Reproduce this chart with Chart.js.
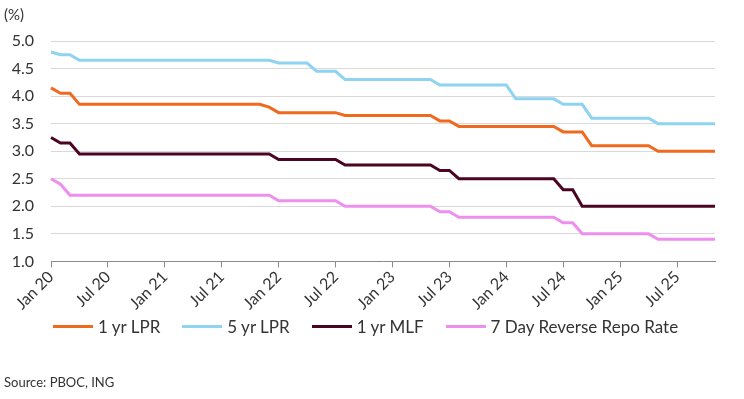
<!DOCTYPE html>
<html>
<head>
<meta charset="utf-8">
<script src="https://cdn.jsdelivr.net/npm/chart.js@4"></script>
<style>
  html, body { margin: 0; padding: 0; background: #fff; }
  #wrap { width: 744px; height: 399px; position: relative; }
  #legend {
      position: absolute; left: 53px; top: 315px; height: 22px;
      display: flex; align-items: center;
      font-family: Lato, "Noto Sans", sans-serif; font-size: 17px; color: #333;
  }
  #legend .item { display: flex; align-items: center; margin-right: 22px; white-space: nowrap; }
  #legend .swatch { width: 40px; height: 3px; margin-right: 5px; }
</style>
</head>
<body>
<div id="wrap">
  <canvas id="ratesChart" width="744" height="399"></canvas>
  <div id="legend"></div>
</div>
<script>
// Month labels Jan 20 .. Nov 25
const months = [
    'Jan 20','Feb 20','Mar 20','Apr 20','May 20','Jun 20','Jul 20','Aug 20','Sep 20','Oct 20','Nov 20','Dec 20',
    'Jan 21','Feb 21','Mar 21','Apr 21','May 21','Jun 21','Jul 21','Aug 21','Sep 21','Oct 21','Nov 21','Dec 21',
    'Jan 22','Feb 22','Mar 22','Apr 22','May 22','Jun 22','Jul 22','Aug 22','Sep 22','Oct 22','Nov 22','Dec 22',
    'Jan 23','Feb 23','Mar 23','Apr 23','May 23','Jun 23','Jul 23','Aug 23','Sep 23','Oct 23','Nov 23','Dec 23',
    'Jan 24','Feb 24','Mar 24','Apr 24','May 24','Jun 24','Jul 24','Aug 24','Sep 24','Oct 24','Nov 24','Dec 24',
    'Jan 25','Feb 25','Mar 25','Apr 25','May 25','Jun 25','Jul 25','Aug 25','Sep 25','Oct 25','Nov 25'
];

const lpr1y = [
    4.15, 4.05, 4.05, 3.85, 3.85, 3.85, 3.85, 3.85, 3.85, 3.85, 3.85, 3.85,
    3.85, 3.85, 3.85, 3.85, 3.85, 3.85, 3.85, 3.85, 3.85, 3.85, 3.85, 3.80,
    3.70, 3.70, 3.70, 3.70, 3.70, 3.70, 3.70, 3.65, 3.65, 3.65, 3.65, 3.65,
    3.65, 3.65, 3.65, 3.65, 3.65, 3.55, 3.55, 3.45, 3.45, 3.45, 3.45, 3.45,
    3.45, 3.45, 3.45, 3.45, 3.45, 3.45, 3.35, 3.35, 3.35, 3.10, 3.10, 3.10,
    3.10, 3.10, 3.10, 3.10, 3.00, 3.00, 3.00, 3.00, 3.00, 3.00, 3.00
];

const lpr5y = [
    4.80, 4.75, 4.75, 4.65, 4.65, 4.65, 4.65, 4.65, 4.65, 4.65, 4.65, 4.65,
    4.65, 4.65, 4.65, 4.65, 4.65, 4.65, 4.65, 4.65, 4.65, 4.65, 4.65, 4.65,
    4.60, 4.60, 4.60, 4.60, 4.45, 4.45, 4.45, 4.30, 4.30, 4.30, 4.30, 4.30,
    4.30, 4.30, 4.30, 4.30, 4.30, 4.20, 4.20, 4.20, 4.20, 4.20, 4.20, 4.20,
    4.20, 3.95, 3.95, 3.95, 3.95, 3.95, 3.85, 3.85, 3.85, 3.60, 3.60, 3.60,
    3.60, 3.60, 3.60, 3.60, 3.50, 3.50, 3.50, 3.50, 3.50, 3.50, 3.50
];

const mlf1y = [
    3.25, 3.15, 3.15, 2.95, 2.95, 2.95, 2.95, 2.95, 2.95, 2.95, 2.95, 2.95,
    2.95, 2.95, 2.95, 2.95, 2.95, 2.95, 2.95, 2.95, 2.95, 2.95, 2.95, 2.95,
    2.85, 2.85, 2.85, 2.85, 2.85, 2.85, 2.85, 2.75, 2.75, 2.75, 2.75, 2.75,
    2.75, 2.75, 2.75, 2.75, 2.75, 2.65, 2.65, 2.50, 2.50, 2.50, 2.50, 2.50,
    2.50, 2.50, 2.50, 2.50, 2.50, 2.50, 2.30, 2.30, 2.00, 2.00, 2.00, 2.00,
    2.00, 2.00, 2.00, 2.00, 2.00, 2.00, 2.00, 2.00, 2.00, 2.00, 2.00
];

const repo7d = [
    2.50, 2.40, 2.20, 2.20, 2.20, 2.20, 2.20, 2.20, 2.20, 2.20, 2.20, 2.20,
    2.20, 2.20, 2.20, 2.20, 2.20, 2.20, 2.20, 2.20, 2.20, 2.20, 2.20, 2.20,
    2.10, 2.10, 2.10, 2.10, 2.10, 2.10, 2.10, 2.00, 2.00, 2.00, 2.00, 2.00,
    2.00, 2.00, 2.00, 2.00, 2.00, 1.90, 1.90, 1.80, 1.80, 1.80, 1.80, 1.80,
    1.80, 1.80, 1.80, 1.80, 1.80, 1.80, 1.70, 1.70, 1.50, 1.50, 1.50, 1.50,
    1.50, 1.50, 1.50, 1.50, 1.40, 1.40, 1.40, 1.40, 1.40, 1.40, 1.40
];

const seriesNames = ['1 yr LPR', '5 yr LPR', '1 yr MLF', '7 Day Reverse Repo Rate'];
const seriesColors = ['#EF6A1E', '#8ED3F2', '#4B0422', '#EE8FEE'];
const seriesData = [lpr1y, lpr5y, mlf1y, repo7d];

const FONT = 'Lato, "Noto Sans", sans-serif';

const datasets = seriesNames.map((name, i) => ({
    label: name,
    data: seriesData[i],
    borderColor: seriesColors[i],
    backgroundColor: seriesColors[i],
    borderWidth: 3,
    pointRadius: 0,
    tension: 0,
    fill: false
}));

const ctx = document.getElementById('ratesChart').getContext('2d');
const chart = new Chart(ctx, {
    type: 'line',
    data: { labels: months, datasets: datasets },
    options: {
        responsive: false,
        animation: false,
        layout: { padding: { left: 4, right: 29, top: 0, bottom: 0 } },
        scales: {
            x: {
                grid: {
                    drawOnChartArea: false,
                    drawTicks: true,
                    tickLength: 6,
                    color: '#8a8a8a'
                },
                border: { color: '#8a8a8a', width: 1 },
                ticks: {
                    autoSkip: false,
                    maxRotation: 45,
                    minRotation: 45,
                    padding: 0,
                    color: '#333',
                    font: { family: FONT, size: 16 },
                    callback: function (val, idx) {
                        return idx % 6 === 0 ? months[idx] : null;
                    }
                },
                afterFit: function (scale) { scale.height = 62; }
            },
            y: {
                min: 1,
                max: 5,
                grid: { color: '#d9d9d9', drawTicks: false },
                border: { display: false },
                ticks: {
                    stepSize: 0.5,
                    padding: 17,
                    color: '#333',
                    font: { family: FONT, size: 16 },
                    callback: v => v.toFixed(1)
                },
                afterFit: function (scale) { scale.width = 47; }
            }
        },
        plugins: {
            tooltip: { enabled: false },
            legend: { display: false },
            title: {
                display: true,
                text: '(%)',
                align: 'start',
                color: '#333',
                font: { family: FONT, size: 15, weight: 'normal' },
                padding: { top: 6, bottom: 17 }
            },
            subtitle: {
                display: true,
                text: 'Source: PBOC, ING',
                position: 'bottom',
                align: 'start',
                color: '#333',
                font: { family: FONT, size: 13 },
                padding: { top: 52, bottom: 8 }
            }
        }
    }
});

// Legend as html, built from the chart's own datasets
const legendEl = document.getElementById('legend');
chart.data.datasets.forEach(ds => {
    const item = document.createElement('div');
    item.className = 'item';
    const sw = document.createElement('span');
    sw.className = 'swatch';
    sw.style.background = ds.borderColor;
    const txt = document.createElement('span');
    txt.textContent = ds.label;
    item.appendChild(sw);
    item.appendChild(txt);
    legendEl.appendChild(item);
});
</script>
</body>
</html>
